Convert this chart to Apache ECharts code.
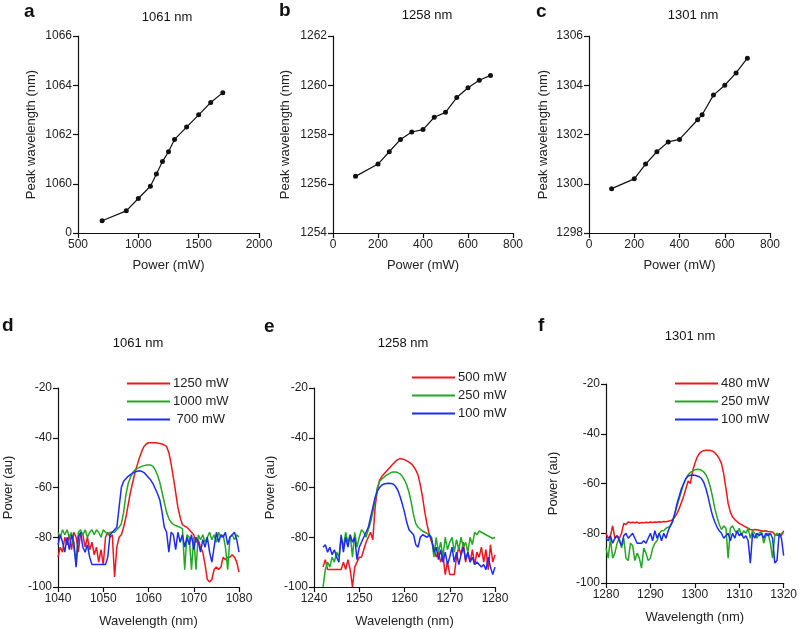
<!DOCTYPE html>
<html><head><meta charset="utf-8">
<script src="https://cdn.jsdelivr.net/npm/echarts/dist/echarts.min.js"></script>
<style>html,body{margin:0;padding:0;background:#fff}#c{width:800px;height:629px}</style>
</head><body><div id="c"></div>
<script>
// ---- Panel a/b/c: peak wavelength vs power ----
const powerA = [700,900,1000,1100,1150,1200,1250,1300,1400,1500,1600,1700];
const peakA  = [1058.5,1058.9,1059.4,1059.9,1060.4,1060.9,1061.3,1061.8,1062.3,1062.8,1063.3,1063.7];
const powerB = [100,200,250,300,350,400,450,500,550,600,650,700];
const peakB  = [1256.3,1256.8,1257.3,1257.8,1258.1,1258.2,1258.7,1258.9,1259.5,1259.9,1260.2,1260.4];
const powerC = [100,200,250,300,350,400,480,500,550,600,650,700];
const peakC  = [1299.8,1300.2,1300.8,1301.3,1301.7,1301.8,1302.6,1302.8,1303.6,1304.0,1304.5,1305.1];

// ---- Panel d: 1061 nm spectra ----
const wlD = [1040,1040.5,1041,1041.5,1042,1042.5,1043,1043.5,1044,1044.5,1045,1045.5,1046,1046.5,1047,1047.5,1048,1048.5,1049,1049.5,1050,1050.5,1051,1051.5,1052,1052.5,1053,1053.5,1054,1054.5,1055,1055.5,1056,1056.5,1057,1057.5,1058,1058.5,1059,1059.5,1060,1060.5,1061,1061.5,1062,1062.5,1063,1063.5,1064,1064.5,1065,1065.5,1066,1066.5,1067,1067.5,1068,1068.5,1069,1069.5,1070,1070.5,1071,1071.5,1072,1072.5,1073,1073.5,1074,1074.5,1075,1075.5,1076,1076.5,1077,1077.5,1078,1078.5,1079,1079.5,1080];
const d1250 = [-88,-84,-86,-80,-83,-79,-85,-78,-80,-86, -78,-79,-84,-80,-85,-82,-87,-84,-90,-85, -91,-80,-78,-80,-79,-96,-84,-80,-79,-76, -72,-67,-62,-58,-54,-51,-48,-45.5,-43.5,-42.5, -42,-42,-42,-42,-42.1,-42.3,-42.5,-43,-43.5,-46, -50.5,-56,-62,-68,-72,-75,-75.5,-76,-77,-78, -79,-82,-81,-84,-86,-91,-97,-98,-97,-93, -92,-93,-92,-88,-89,-88,-88,-87,-88,-90, -94];
const d1000 = [-78,-80,-77,-79,-77,-80,-78,-84,-90,-78, -77,-79,-77,-80,-78,-77,-79,-77,-78,-80, -77,-78,-79,-78,-78,-78,-77,-76,-74.5,-70, -63,-58.5,-56,-54,-53,-52.3,-52,-51.5,-51.2,-51, -51,-51,-51.5,-53,-55,-58,-62,-66,-70,-72.5, -74,-74.8,-75.3,-75.7,-76,-76.5,-93,-79,-80,-93, -80,-93,-79,-81,-79,-82,-80,-78,-81,-79, -82,-78,-80,-79,-84,-93,-80,-79,-81,-79, -80];
const d700  = [-83,-79,-82,-86,-80,-85,-79,-82,-92,-80, -78,-84,-86,-83,-88,-91,-91,-91,-91,-91, -91,-91,-88,-79,-78,-77,-76,-68,-60,-57.5, -56.5,-55.5,-54.8,-54.2,-53.8,-53.5,-53.3,-53.5,-54,-55, -56,-57,-58.5,-60.5,-62.5,-65,-70,-76,-78,-86, -78,-79,-85,-78,-82,-79,-84,-80,-83,-79, -85,-80,-82,-86,-81,-84,-80,-86,-90,-84, -78,-82,-79,-80,-78,-83,-80,-79,-78,-81, -86];

// ---- Panel e: 1258 nm spectra ----
const wlE = [1242,1242.5,1243,1243.5,1244,1244.5,1245,1245.5,1246,1246.5,1247,1247.5,1248,1248.5,1249,1249.5,1250,1250.5,1251,1251.5,1252,1252.5,1253,1253.5,1254,1254.5,1255,1255.5,1256,1256.5,1257,1257.5,1258,1258.5,1259,1259.5,1260,1260.5,1261,1261.5,1262,1262.5,1263,1263.5,1264,1264.5,1265,1265.5,1266,1266.5,1267,1267.5,1268,1268.5,1269,1269.5,1270,1270.5,1271,1271.5,1272,1272.5,1273,1273.5,1274,1274.5,1275,1275.5,1276,1276.5,1277,1277.5,1278,1278.5,1279,1279.5,1280];
const e500 = [-92,-89,-93,-93,-93,-93,-93,-93,-93,-90, -93,-89,-93,-100,-92,-90,-88,-88,-85,-82, -80,-78,-81,-68,-61,-57,-55.5,-54.5,-53.5,-52.5, -51.5,-50.5,-49.5,-48.8,-48.4,-48.5,-48.8,-49.3,-49.8,-50.5, -51.5,-53,-55,-59,-64,-70,-75,-79,-82,-84, -88,-86,-90,-87,-95,-90,-95,-95,-95,-88, -84,-87,-82,-90,-86,-90,-85,-91,-86,-88, -84,-90,-85,-93,-83,-90,-87];
const e250 = [-100,-93,-90,-92,-88,-90,-86,-88,-80,-84, -78,-82,-79,-88,-78,-84,-80,-77,-78,-80, -77,-74,-70,-65,-60,-57.5,-56.5,-55.8,-55,-54.5, -54,-53.8,-53.8,-54,-54.5,-55.5,-57,-59,-62,-66, -71,-74.5,-76,-76.8,-77.5,-78,-78.5,-79,-80,-88, -80,-86,-82,-88,-80,-85,-82,-80,-86,-81, -85,-80,-84,-82,-86,-80,-83,-78,-79,-77.5, -78,-78.5,-79,-79.5,-80,-80.5,-80];
const e100 = [-84,-83,-86,-84,-87,-85,-88,-90,-79,-86, -80,-84,-79,-82,-80,-89,-84,-82,-80,-78, -76,-72,-68,-64,-61.5,-60,-59,-58.6,-58.4,-58.3, -58.4,-58.6,-59.5,-61,-63.5,-66.5,-70,-74,-77,-78, -79,-83,-84,-80,-79,-79.5,-80,-79,-81,-86, -84,-89,-85,-90,-86,-91,-88,-84,-90,-86, -91,-87,-84,-89,-86,-90,-88,-91,-90,-91, -92,-91,-93,-88,-92,-95,-92];

// ---- Panel f: 1301 nm spectra ----
const wlF = [1280,1280.5,1281,1281.5,1282,1282.5,1283,1283.5,1284,1284.5,1285,1285.5,1286,1286.5,1287,1287.5,1288,1288.5,1289,1289.5,1290,1290.5,1291,1291.5,1292,1292.5,1293,1293.5,1294,1294.5,1295,1295.5,1296,1296.5,1297,1297.5,1298,1298.5,1299,1299.5,1300,1300.5,1301,1301.5,1302,1302.5,1303,1303.5,1304,1304.5,1305,1305.5,1306,1306.5,1307,1307.5,1308,1308.5,1309,1309.5,1310,1310.5,1311,1311.5,1312,1312.5,1313,1313.5,1314,1314.5,1315,1315.5,1316,1316.5,1317,1317.5,1318,1318.5,1319,1319.5,1320];
const f480 = [-80,-82,-81,-77,-82,-81,-82,-80,-76,-76.5, -75.5,-75.8,-75.6,-75.8,-75.5,-76,-75.7,-75.8,-75.6,-75.8, -75.5,-75.7,-75.5,-75.6,-75.4,-75.5,-75.3,-75.4,-75.2,-75, -74.5,-73.5,-72,-70,-67.5,-65,-62,-59,-60,-55, -52,-49.5,-48,-47.2,-46.8,-46.6,-46.6,-46.7,-47,-47.6, -48.6,-50,-52,-56,-62,-68,-71.5,-73.5,-74.5,-75.3, -76,-76.5,-77,-77.5,-78,-78.5,-78.7,-78.5,-78.6,-78.8, -79,-79.2,-79,-79.3,-79.4,-79.5,-80.5,-80.8,-80.8,-81, -79];
const f250 = [-86,-90,-82,-90,-88,-84,-82,-86,-82,-90, -91,-84,-85,-91,-88,-90,-94,-86,-88,-91, -90,-86,-84,-83,-80,-79,-79,-78,-77.5,-77, -75.5,-72,-69,-66,-63,-60,-58,-56.5,-55.5,-55, -54.5,-54.3,-54.4,-54.7,-55.3,-56.5,-58.5,-61.5,-65.5,-70, -73.5,-76.5,-78.5,-77,-78,-90,-78,-77,-79,-80, -78,-81,-79,-80,-78,-82,-79,-80,-82,-80, -79,-84,-81,-80,-84,-90,-81,-80,-81,-80, -80];
const f100 = [-82,-83,-81,-84,-82,-81,-83,-85,-81,-80, -82,-81,-80,-82,-84,-84,-84,-83,-84,-82, -80,-83,-79,-82,-80,-83,-80,-82,-79,-77, -75,-72,-68,-65,-62,-60,-58,-57,-56.7,-56.6, -56.7,-57,-57.3,-58,-59.5,-62,-65.5,-69.5,-73,-75.5, -77.5,-79,-80,-82,-81,-80,-83,-80,-82,-79, -81,-80,-82,-81,-83,-92,-80,-82,-80,-81, -80,-82,-80,-81,-80,-82,-92,-91,-80,-82, -89];

const titlesTop = ['1061 nm','1258 nm','1301 nm'];
const titlesBottom = ['1061 nm','1258 nm','1301 nm'];
const letters = ['a','b','c','d','e','f'];
const legendD = ['1250 mW','1000 mW',' 700 mW'];
const legendE = ['500 mW','250 mW','100 mW'];
const legendF = ['480 mW','250 mW','100 mW'];

const zip = (x, y) => x.map((v, i) => [v, y[i]]);
const FONT = 'Liberation Sans, Arial, sans-serif';
const RED = '#f2161b', GREEN = '#22a822', BLUE = '#1c2cf5';

const grids = [
  {left:78,  top:36,  width:181, height:197},
  {left:333, top:36,  width:180, height:197},
  {left:589, top:36,  width:181, height:197},
  {left:58,  top:388, width:181, height:199},
  {left:314, top:388, width:181, height:199},
  {left:606, top:384, width:181, height:199}
];

function axisBase(extra) {
  return Object.assign({
    type: 'value',
    axisLine: {show: true, onZero: false, lineStyle: {color: '#111', width: 1.2}},
    axisTick: {show: true, length: 5, lineStyle: {color: '#111', width: 1.2}},
    splitLine: {show: false},
    axisLabel: {color: '#222', fontSize: 12, fontFamily: FONT, margin: 6, formatter: v => String(v)},
    nameLocation: 'middle',
    nameTextStyle: {color: '#222', fontSize: 13, fontFamily: FONT}
  }, extra);
}

const xAxes = [
  axisBase({gridIndex:0, min:500, max:2000, interval:500, name:'Power (mW)', nameGap:26}),
  axisBase({gridIndex:1, min:0, max:800, interval:200, name:'Power (mW)', nameGap:26}),
  axisBase({gridIndex:2, min:0, max:800, interval:200, name:'Power (mW)', nameGap:26}),
  axisBase({gridIndex:3, min:1040, max:1080, interval:10, name:'Wavelength (nm)', nameGap:28}),
  axisBase({gridIndex:4, min:1240, max:1280, interval:10, name:'Wavelength (nm)', nameGap:28}),
  axisBase({gridIndex:5, min:1280, max:1320, interval:10, name:'Wavelength (nm)', nameGap:28})
];
const yAxes = [
  axisBase({gridIndex:0, min:1058, max:1066, interval:2, name:'Peak wavelength (nm)', nameGap:40,
    axisLabel:{color:'#222', fontSize:12, fontFamily:FONT, margin:6, formatter: v => v === 1058 ? '0' : String(v)}}),
  axisBase({gridIndex:1, min:1254, max:1262, interval:2, name:'Peak wavelength (nm)', nameGap:41}),
  axisBase({gridIndex:2, min:1298, max:1306, interval:2, name:'Peak wavelength (nm)', nameGap:39}),
  axisBase({gridIndex:3, min:-100, max:-20, interval:20, name:'Power (au)', nameGap:43}),
  axisBase({gridIndex:4, min:-100, max:-20, interval:20, name:'Power (au)', nameGap:37}),
  axisBase({gridIndex:5, min:-100, max:-20, interval:20, name:'Power (au)', nameGap:46})
];

function dotSeries(i, x, y) {
  return {type:'line', xAxisIndex:i, yAxisIndex:i, data: zip(x, y),
    symbol:'circle', symbolSize:5, showSymbol:true,
    itemStyle:{color:'#111'}, lineStyle:{color:'#111', width:1.2}, silent:true};
}
function specSeries(i, name, color, x, y) {
  return {type:'line', name, xAxisIndex:i, yAxisIndex:i, data: zip(x, y),
    symbol:'none', itemStyle:{color}, lineStyle:{color, width:1.5}, silent:true};
}

const series = [
  dotSeries(0, powerA, peakA),
  dotSeries(1, powerB, peakB),
  dotSeries(2, powerC, peakC),
  specSeries(3, legendD[0], RED, wlD, d1250),
  specSeries(3, legendD[1], GREEN, wlD, d1000),
  specSeries(3, legendD[2], BLUE, wlD, d700),
  specSeries(4, legendE[0], RED, wlE, e500),
  specSeries(4, legendE[1], GREEN, wlE, e250),
  specSeries(4, legendE[2], BLUE, wlE, e100),
  specSeries(5, legendF[0], RED, wlF, f480),
  specSeries(5, legendF[1], GREEN, wlF, f250),
  specSeries(5, legendF[2], BLUE, wlF, f100)
];

function legendAt(left, top, data) {
  return {left, top, orient:'vertical', padding:0, icon:'rect', itemWidth:43, itemHeight:2, itemGap:3,
    selectedMode:false, data, textStyle:{color:'#222', fontSize:13, fontFamily:FONT, lineHeight:15, padding:[0,0,0,-2]}};
}

const txt = (text, x, y, size, bold) => ({type:'text', x, y, silent:true,
  style:{text, fill:'#111', font:(bold ? 'bold ' : '') + size + 'px ' + FONT, textAlign: bold ? 'left' : 'center', textVerticalAlign: bold ? 'top' : 'middle'}});

const graphics = [
  txt(titlesTop[0], 167, 17, 13), txt(titlesTop[1], 427, 15, 13), txt(titlesTop[2], 693, 15, 13),
  txt(titlesBottom[0], 138, 343, 13), txt(titlesBottom[1], 403, 343, 13), txt(titlesBottom[2], 690, 336, 13),
  txt(letters[0], 24, 2, 19, true), txt(letters[1], 279, 1, 19, true), txt(letters[2], 536, 2, 19, true),
  txt(letters[3], 2, 316, 19, true), txt(letters[4], 264, 317, 19, true), txt(letters[5], 538, 316, 19, true)
];

const chart = echarts.init(document.getElementById('c'), null, {renderer:'canvas'});
chart.setOption({
  animation: false,
  backgroundColor: '#fff',
  grid: grids,
  xAxis: xAxes,
  yAxis: yAxes,
  series,
  legend: [legendAt(127, 376, legendD), legendAt(412, 370, legendE), legendAt(675, 376, legendF)],
  graphic: graphics
});
</script></body></html>
